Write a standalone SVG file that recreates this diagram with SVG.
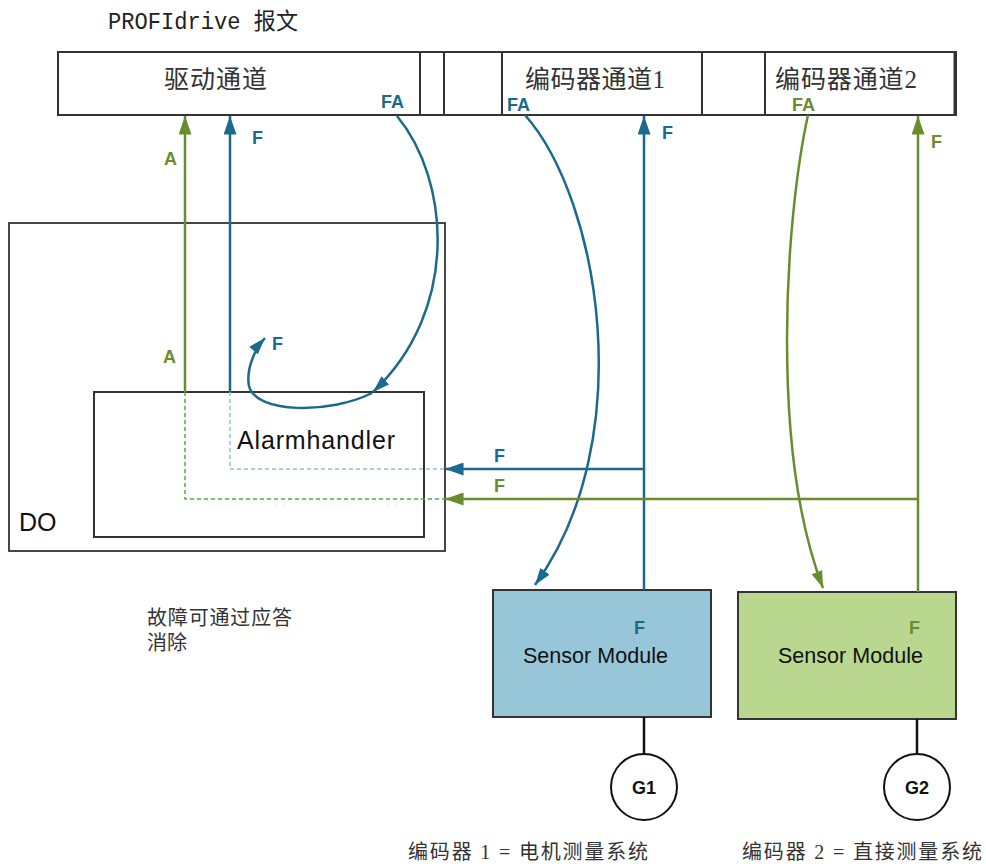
<svg xmlns="http://www.w3.org/2000/svg" width="986" height="866" viewBox="0 0 986 866">
<style>
.box{fill:#fff;stroke:#333;stroke-width:2}
.cjk{font-family:"Liberation Serif","Noto Sans CJK SC",serif;fill:#333}
.lbl{font-family:"Liberation Sans",Arial,sans-serif;font-weight:bold;font-size:18px}
.txt{font-family:"Liberation Sans",Arial,sans-serif;fill:#111}
.b{stroke:#1a6a8e;stroke-width:2.5;fill:none}
.g{stroke:#6b8c2e;stroke-width:2.5;fill:none}
.bt{fill:#1a6a8e}
.gt{fill:#6b8c2e}
.db{stroke:#8fc4da;stroke-width:1.5;stroke-dasharray:4 3;fill:none}
.dg{stroke:#4fae3c;stroke-width:1.5;stroke-dasharray:4 3;fill:none}
</style>
<defs>
<marker id="ab" viewBox="0 0 20 14" refX="20" refY="7" markerWidth="20" markerHeight="13" markerUnits="userSpaceOnUse" orient="auto"><path d="M0,0 L20,7 L0,14 z" fill="#1a6a8e"/></marker>
<marker id="ag" viewBox="0 0 20 14" refX="20" refY="7" markerWidth="20" markerHeight="13" markerUnits="userSpaceOnUse" orient="auto"><path d="M0,0 L20,7 L0,14 z" fill="#6b8c2e"/></marker>
<marker id="cb" viewBox="0 0 18 12" refX="18" refY="6" markerWidth="17" markerHeight="12" markerUnits="userSpaceOnUse" orient="auto"><path d="M0,0 L18,6 L0,12 z" fill="#1a6a8e"/></marker>
<marker id="cg" viewBox="0 0 18 12" refX="18" refY="6" markerWidth="17" markerHeight="12" markerUnits="userSpaceOnUse" orient="auto"><path d="M0,0 L18,6 L0,12 z" fill="#6b8c2e"/></marker>
</defs>
<rect width="986" height="866" fill="#fff"/>

<text x="108" y="29" font-size="23" fill="#222" textLength="190" lengthAdjust="spacingAndGlyphs" style="font-family:'Liberation Mono','Noto Sans CJK SC',monospace">PROFIdrive 报文</text>

<g id="telegram">
<rect class="box" x="58" y="52" width="898" height="63"/>
<line x1="420" y1="52" x2="420" y2="115" stroke="#333" stroke-width="2"/>
<line x1="444" y1="52" x2="444" y2="115" stroke="#333" stroke-width="2"/>
</g>
<g id="drive-channel">
<text class="cjk" x="164" y="88" font-size="25" textLength="103">驱动通道</text>
</g>
<g id="encoder-channel-1">
<rect class="box" x="502" y="52" width="200" height="63"/>
<text class="cjk" x="525" y="88" font-size="25" textLength="140">编码器通道1</text>
</g>
<g id="encoder-channel-2">
<rect class="box" x="765" y="52" width="190" height="63"/>
<line x1="955" y1="52" x2="955" y2="115" stroke="#333" stroke-width="3"/>
<text class="cjk" x="775" y="88" font-size="25" textLength="142">编码器通道2</text>
</g>

<g id="do">
<rect x="9" y="223" width="436" height="328" fill="none" stroke="#333" stroke-width="1.8"/>
<text class="txt" x="19" y="531" font-size="25">DO</text>
</g>
<g id="alarmhandler">
<rect x="94" y="392" width="330" height="145" fill="none" stroke="#333" stroke-width="2"/>
<text class="txt" x="237" y="449" font-size="25" textLength="158">Alarmhandler</text>
</g>

<g id="sensor-module-1">
<rect x="493" y="590" width="218" height="127" fill="#98c6d9" stroke="#333" stroke-width="2"/>
<text class="txt" x="523" y="663" font-size="21.5" textLength="145">Sensor Module</text>
<text class="lbl bt" x="634" y="634">F</text>
</g>
<g id="sensor-module-2">
<rect x="738" y="592" width="218" height="127" fill="#b9d78f" stroke="#333" stroke-width="2"/>
<text class="txt" x="778" y="663" font-size="21.5" textLength="145">Sensor Module</text>
<text class="lbl gt" x="909" y="634">F</text>
</g>
<g id="g1">
<line x1="644" y1="717" x2="644" y2="754" stroke="#111" stroke-width="2.5"/>
<circle cx="644" cy="787" r="33" fill="#fff" stroke="#111" stroke-width="2"/>
<text class="lbl" x="644" y="794" text-anchor="middle" fill="#111" font-size="19">G1</text>
</g>
<g id="g2">
<line x1="917" y1="719" x2="917" y2="754" stroke="#111" stroke-width="2.5"/>
<circle cx="917" cy="787" r="33" fill="#fff" stroke="#111" stroke-width="2"/>
<text class="lbl" x="917" y="794" text-anchor="middle" fill="#111" font-size="19">G2</text>
</g>

<g id="connectors">
<path class="dg" d="M185,392 V499 H445"/>
<path class="db" d="M230,392 V469 H445"/>
<path class="g" d="M185,392 V116" marker-end="url(#ag)"/>
<path class="b" d="M230,392 V116" marker-end="url(#ab)"/>
<path class="b" d="M397,116 C450,180 460,310 373,392" marker-end="url(#cb)"/>
<path class="b" d="M372,393 C330,414 256,414 249,386 C246,370 254,350 265,338" marker-end="url(#cb)"/>
<path class="b" d="M525,115 C600,200 640,440 535,585" marker-end="url(#cb)"/>
<path class="g" d="M808,115 C785,220 770,450 823,588" marker-end="url(#cg)"/>
<path class="b" d="M644,590 V116" marker-end="url(#ab)"/>
<path class="b" d="M644,469 H445" marker-end="url(#ab)"/>
<path class="g" d="M918,592 V116" marker-end="url(#ag)"/>
<path class="g" d="M918,499 H445" marker-end="url(#ag)"/>
</g>

<g id="labels">
<text class="lbl gt" x="164" y="165">A</text>
<text class="lbl gt" x="163" y="363">A</text>
<text class="lbl bt" x="252" y="144">F</text>
<text class="lbl bt" x="272" y="350">F</text>
<text class="lbl bt" x="381" y="108">FA</text>
<text class="lbl bt" x="507" y="111">FA</text>
<text class="lbl gt" x="792" y="111">FA</text>
<text class="lbl bt" x="662" y="139">F</text>
<text class="lbl gt" x="931" y="148">F</text>
<text class="lbl bt" x="494" y="462">F</text>
<text class="lbl gt" x="494" y="492">F</text>
</g>

<text class="cjk" x="147" y="625" font-size="20" textLength="145">故障可通过应答</text>
<text class="cjk" x="147" y="650" font-size="20">消除</text>
<text class="cjk" x="408" y="859" font-size="20" textLength="240" xml:space="preserve">编码器 1 = 电机测量系统</text>
<text class="cjk" x="742" y="859" font-size="20" textLength="240" xml:space="preserve">编码器 2 = 直接测量系统</text>
</svg>
